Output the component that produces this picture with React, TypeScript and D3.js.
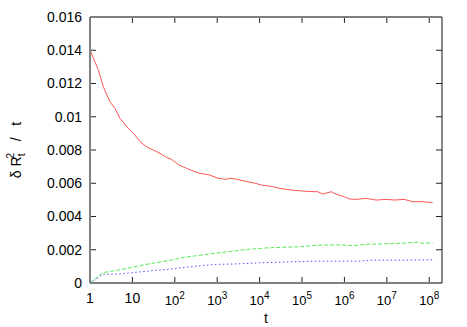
import React from 'react';
import * as d3 from 'd3';

// log10(t) sample positions and values
const redLogT = [0, 0.195, 0.313, 0.47, 0.588, 0.706, 0.9, 1.06, 1.18, 1.33, 1.49, 1.65, 1.8, 1.92, 2.1, 2.275, 2.45, 2.588, 2.82, 3.02, 3.18, 3.33, 3.53, 3.72, 3.9, 4.04, 4.235, 4.47, 4.75, 5.02, 5.2, 5.37, 5.49, 5.69, 5.8, 6.0, 6.12, 6.275, 6.51, 6.75, 6.98, 7.18, 7.41, 7.61, 7.84, 8.08];
const redValues = [0.01401, 0.01283, 0.01181, 0.0109, 0.01051, 0.00991, 0.00931, 0.0089, 0.0085, 0.0082, 0.008, 0.0078, 0.00756, 0.00744, 0.0071, 0.0069, 0.00672, 0.0066, 0.0065, 0.0063, 0.00624, 0.0063, 0.0062, 0.00609, 0.006, 0.00589, 0.00583, 0.0057, 0.00559, 0.00553, 0.0055, 0.00549, 0.00535, 0.00549, 0.00535, 0.00519, 0.00505, 0.00503, 0.00509, 0.00499, 0.00503, 0.00499, 0.00503, 0.00489, 0.00489, 0.00483];

const greenLogT = [0, 0.3, 0.67, 1.06, 1.45, 1.84, 2.235, 2.63, 2.94, 3.37, 3.76, 4.16, 4.55, 4.94, 5.33, 5.65, 5.95, 6.2, 6.51, 6.98, 7.37, 7.72, 7.84, 8.08];
const greenValues = [0, 0.00062, 0.00078, 0.00098, 0.00118, 0.00134, 0.00155, 0.00168, 0.00179, 0.00192, 0.00203, 0.00211, 0.00215, 0.00218, 0.00227, 0.00229, 0.00229, 0.00224, 0.00233, 0.00236, 0.00239, 0.00245, 0.00239, 0.00241];

const blueLogT = [0, 0.3, 0.67, 1.06, 1.45, 1.84, 2.235, 2.63, 2.94, 3.37, 3.76, 4.0, 4.55, 4.78, 5.33, 5.65, 6.2, 6.3, 6.59, 7.37, 8.08];
const blueValues = [0, 0.00052, 0.00054, 0.00064, 0.00074, 0.00082, 0.00094, 0.00104, 0.00112, 0.00114, 0.00118, 0.00122, 0.00125, 0.00128, 0.00131, 0.00131, 0.00132, 0.0013, 0.00137, 0.00137, 0.0014];

const yTicks = [0, 0.002, 0.004, 0.006, 0.008, 0.01, 0.012, 0.014, 0.016];
const yTickLabels = ['0', '0.002', '0.004', '0.006', '0.008', '0.01', '0.012', '0.014', '0.016'];
const xTickExponents = [0, 1, 2, 3, 4, 5, 6, 7, 8];

const W = 467;
const H = 327;
const margin = { top: 17, right: 25, bottom: 44, left: 90 };
const FONT = '"Liberation Sans", Arial, sans-serif';

const App = () => {
  const x = d3.scaleLog().domain([1, 2e8]).range([margin.left, W - margin.right]);
  const y = d3.scaleLinear().domain([0, 0.016]).range([H - margin.bottom, margin.top]);

  const line = d3.line<[number, number]>()
    .x(d => x(Math.pow(10, d[0])))
    .y(d => y(d[1]));

  const series = [
    { logT: redLogT, values: redValues, color: '#ff0000', dash: null },
    { logT: greenLogT, values: greenValues, color: '#00e000', dash: '4,2' },
    { logT: blueLogT, values: blueValues, color: '#0000ff', dash: '1.5,2.5' },
  ];

  const x0 = margin.left, x1 = W - margin.right, y0 = H - margin.bottom, y1 = margin.top;
  const tick = 6;

  return (
    <svg width={W} height={H} style={{ position: 'absolute', left: 0, top: 0, background: '#fff' }}
      fontFamily={FONT}>
      {/* series */}
      <g fill="none">
        {series.map((s, i) => (
          <path key={i}
            d={line(s.logT.map((lt, j) => [lt, s.values[j]] as [number, number])) || ''}
            stroke={s.color} strokeWidth={0.9} strokeOpacity={0.75}
            strokeDasharray={s.dash || undefined} />
        ))}
      </g>

      {/* y ticks and labels */}
      {yTicks.map((v, i) => (
        <g key={'y' + i}>
          <line x1={x0} x2={x0 + tick} y1={y(v)} y2={y(v)} stroke="#222" />
          <line x1={x1} x2={x1 - tick} y1={y(v)} y2={y(v)} stroke="#222" />
          <text x={x0 - 8} y={y(v)} dy="0.35em" textAnchor="end" fontSize={14} fill="#000">
            {yTickLabels[i]}
          </text>
        </g>
      ))}

      {/* x ticks and labels */}
      {xTickExponents.map(e => {
        const px = x(Math.pow(10, e));
        return (
          <g key={'x' + e}>
            <line x1={px} x2={px} y1={y0} y2={y0 - tick} stroke="#222" />
            <line x1={px} x2={px} y1={y1} y2={y1 + tick} stroke="#222" />
            {e === 0 ? (
              <text x={px} y={303} textAnchor="middle" fontSize={14}>1</text>
            ) : e === 1 ? (
              <text x={px} y={303} textAnchor="middle" fontSize={14}>10</text>
            ) : (
              <text x={px} y={305} textAnchor="middle" fontSize={13}>
                10<tspan dy={-6} fontSize={10}>{e}</tspan>
              </text>
            )}
          </g>
        );
      })}

      {/* frame */}
      <line x1={x0} x2={x0} y1={y1} y2={y0} stroke="#808080" strokeWidth={2} />
      <line x1={x0} x2={x1} y1={y0} y2={y0} stroke="#808080" strokeWidth={2} />
      <line x1={x0} x2={x1} y1={y1} y2={y1} stroke="#808080" strokeWidth={2} />
      <line x1={x1} x2={x1} y1={y1} y2={y0} stroke="#111" strokeWidth={1} />

      {/* axis labels */}
      <text x={(x0 + x1) / 2} y={323} textAnchor="middle" fontSize={14}>t</text>
      <text transform={`translate(21,${(y0 + y1) / 2}) rotate(-90)`} textAnchor="middle" fontSize={14}
        style={{ whiteSpace: 'pre' }}>
        {'δ R'}<tspan dy={4} fontSize={10}>t</tspan><tspan dx={-5} dy={-11} fontSize={10}>2</tspan><tspan dy={7}>{'   /   t'}</tspan>
      </text>
    </svg>
  );
};

export default App;
